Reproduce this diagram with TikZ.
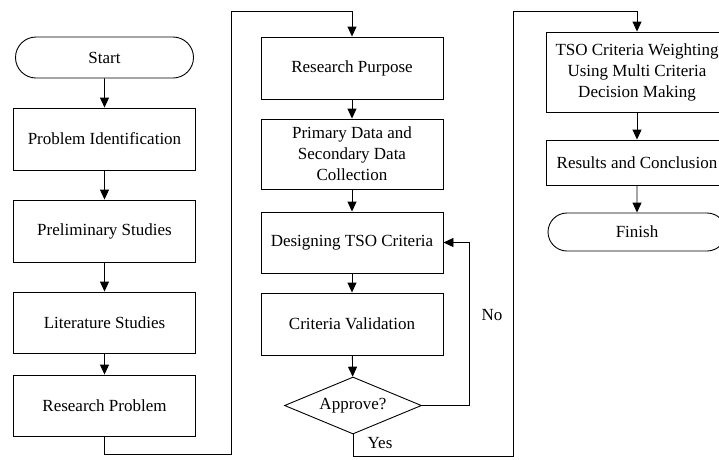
\documentclass[tikz,border=0pt]{standalone}
\usepackage{fontspec}
\setmainfont{Liberation Serif}
\usetikzlibrary{shapes.misc,shapes.geometric,arrows.meta}

\tikzset{
  stagebox/.style={draw, line width=0.9pt, rectangle, minimum width=182pt, inner sep=2pt, align=center},
  termbox/.style={draw, line width=0.9pt, rounded rectangle, minimum width=182pt, inner sep=2pt},
  askbox/.style={draw, line width=0.9pt, diamond, shape aspect=2.4, minimum width=137pt, minimum height=57pt, inner sep=0pt},
  flow/.style={draw, line width=0.9pt, ->}
}

\begin{document}
\begin{tikzpicture}[>={Triangle[length=10pt,width=9pt]}, x=1pt, y=-1pt, font=\fontsize{17}{21}\selectfont]
      \useasboundingbox (0,0) rectangle (719,459);
      \clip (0,0) rectangle (719,459);

      % First column
      \node[termbox, minimum height=41pt] (start) at (104.5,57.5) {Start};
      \node[stagebox, minimum height=62pt] (probid) at (104.5,139) {Problem Identification};
      \node[stagebox, minimum height=62pt] (prelim) at (104.5,231) {Preliminary Studies};
      \node[stagebox, minimum height=61pt] (litstud) at (104.5,322.5) {Literature Studies};
      \node[stagebox, minimum height=61pt] (resprob) at (104.5,405.5) {Research Problem};

      % Second column
      \node[stagebox, minimum height=62pt] (purpose) at (352,68) {Research Purpose};
      \node[stagebox, minimum height=70pt] (datacol) at (352,154) {Primary Data and\\Secondary Data\\Collection};
      \node[stagebox, minimum height=61pt] (design) at (352,242.5) {Designing TSO Criteria};
      \node[stagebox, minimum height=62pt] (valid) at (352,324) {Criteria Validation};
      \node[askbox] (approve) at (353,405.5) {Approve?};

      % Third column
      \node[stagebox, minimum height=80pt] (weight) at (637,72) {TSO Criteria Weighting\\Using Multi Criteria\\Decision Making};
      \node[stagebox, minimum height=45pt] (result) at (637,162.5) {Results and Conclusion};
      \node[termbox, minimum height=38pt] (finish) at (637,232) {Finish};

      % Labels
      \node (nolbl) at (492,315) {No};
      \node (yeslbl) at (380,443) {Yes};

      % Turning points
      \coordinate (j1) at (231,454);
      \coordinate (j2) at (231,11);
      \coordinate (j3) at (469,405.5);
      \coordinate (j4) at (513,456);
      \coordinate (j5) at (513,11);

      % Arrows
      \draw[flow] (start) -- (probid);
      \draw[flow] (probid) -- (prelim);
      \draw[flow] (prelim) -- (litstud);
      \draw[flow] (litstud) -- (resprob);
      \draw[flow] (resprob.south) |- (j1) -- (j2) -| (purpose.north);
      \draw[flow] (purpose) -- (datacol);
      \draw[flow] (datacol) -- (design);
      \draw[flow] (design) -- (valid);
      \draw[flow] (valid) -- (approve);
      \draw[flow] (approve.east) -- (j3) |- (design.east);
      \draw[flow] (approve.south) |- (j4) -- (j5) -| (weight.north);
      \draw[flow] (weight) -- (result);
      \draw[flow] (result) -- (finish);
\end{tikzpicture}
\end{document}
